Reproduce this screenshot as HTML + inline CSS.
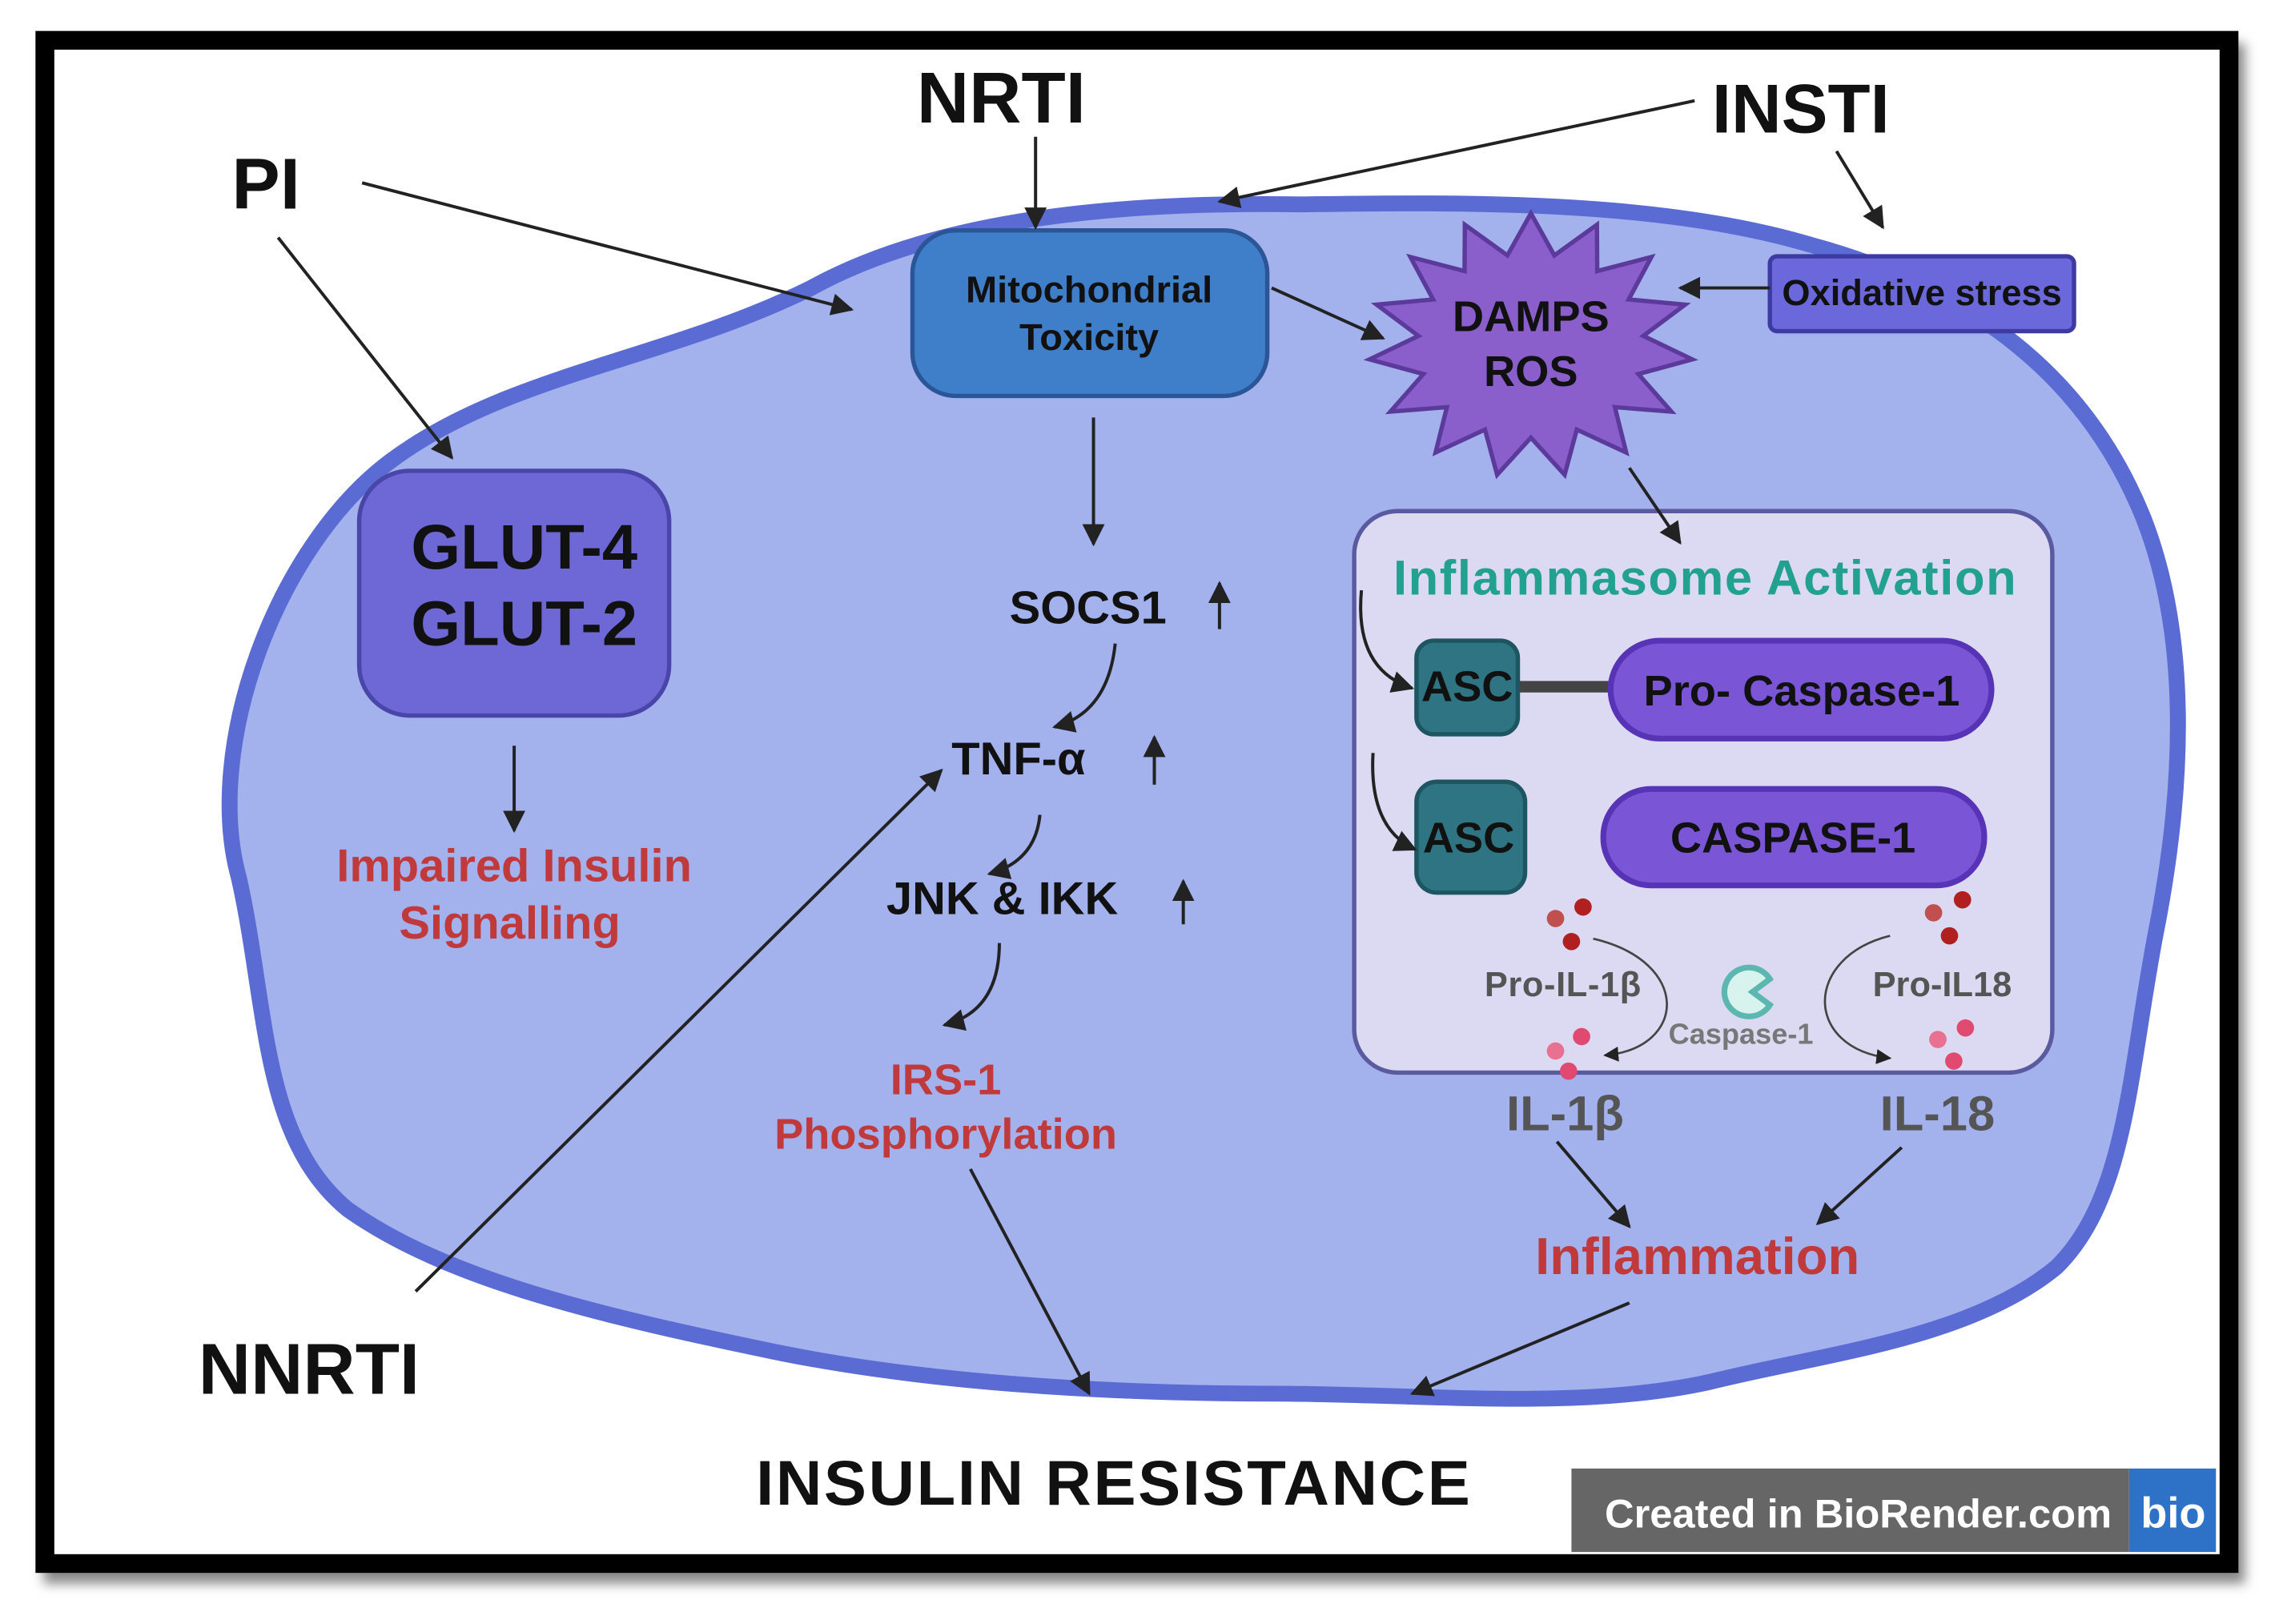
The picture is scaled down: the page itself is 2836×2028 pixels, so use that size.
<!DOCTYPE html>
<html><head><meta charset="utf-8"><style>
html,body{margin:0;padding:0;background:#fff;}
svg{display:block;}
text{font-family:"Liberation Sans Narrow","Liberation Sans",sans-serif;font-weight:bold;}
</style></head><body>
<svg width="2836" height="2028" viewBox="0 0 1568 1128" preserveAspectRatio="none" xmlns="http://www.w3.org/2000/svg">
<defs>
<marker id="a" viewBox="0 0 10 10" refX="9" refY="5" markerWidth="7" markerHeight="7" orient="auto-start-reverse"><path d="M0,0 L10,5 L0,10 z" fill="#222"/></marker>
<filter id="sh" x="-5%" y="-5%" width="110%" height="110%"><feGaussianBlur stdDeviation="4"/></filter>
</defs>
<rect x="0" y="0" width="1568" height="1128" fill="#fff"/>
<rect x="30" y="30" width="1520" height="1070" fill="#888" filter="url(#sh)"/>
<rect x="31" y="28" width="1508" height="1058" fill="#fff" stroke="#000" stroke-width="13"/>
<path d="M165,610 C140,520 190,380 270,320 C350,260 460,250 560,200 C650,150 780,140 900,142 C1020,140 1150,140 1250,170 C1360,200 1440,260 1480,360 C1515,450 1505,560 1490,640 C1470,740 1470,830 1420,880 C1360,930 1260,940 1180,960 C1090,980 980,968 880,968 C760,968 640,960 540,940 C420,915 310,890 240,840 C180,790 185,700 165,610 Z" fill="#a3b1ec" stroke="#5a6bd4" stroke-width="11"/>
<text x="160" y="145" font-size="50" fill="#111">PI</text>
<text x="633" y="85" font-size="50" fill="#111">NRTI</text>
<text x="1182" y="92" font-size="48" fill="#111">INSTI</text>
<text x="137" y="968" font-size="50" fill="#111">NNRTI</text>
<text x="522" y="1045" font-size="44" fill="#111" textLength="493">INSULIN RESISTANCE</text>
<rect x="630" y="160" width="245" height="115" rx="30" fill="#3f7fca" stroke="#2a5596" stroke-width="3"/>
<text x="752" y="210" font-size="26" text-anchor="middle" fill="#111">Mitochondrial</text>
<text x="752" y="243" font-size="26" text-anchor="middle" fill="#111">Toxicity</text>
<polygon id="star" fill="#8a5ecb" stroke="#5b3a9c" stroke-width="3" points=""/>
<rect x="1222" y="178" width="210" height="52" rx="5" fill="#6a68da" stroke="#3d3ba2" stroke-width="3"/>
<text x="1327" y="212" font-size="25" text-anchor="middle" fill="#111">Oxidative stress</text>
<rect x="248" y="327" width="214" height="170" rx="35" fill="#6d68d6" stroke="#4a45a8" stroke-width="3"/>
<text x="362" y="395" font-size="44" text-anchor="middle" fill="#111">GLUT-4</text>
<text x="362" y="448" font-size="44" text-anchor="middle" fill="#111">GLUT-2</text>
<text x="355" y="612" font-size="32" text-anchor="middle" fill="#c0393b">Impaired Insulin</text>
<text x="352" y="652" font-size="32" text-anchor="middle" fill="#c0393b">Signalling</text>
<text x="697" y="433" font-size="32" fill="#111">SOCS1</text>
<text x="657" y="538" font-size="32" fill="#111">TNF-α</text>
<text x="612" y="635" font-size="32" fill="#111">JNK &amp; IKK</text>
<text x="653" y="760" font-size="30" text-anchor="middle" fill="#c0393b">IRS-1</text>
<text x="653" y="798" font-size="30" text-anchor="middle" fill="#c0393b">Phosphorylation</text>
<rect x="935" y="355" width="482" height="390" rx="30" fill="#dcdaf2" stroke="#5a5aa0" stroke-width="3"/>
<text x="962" y="413" font-size="34" fill="#22a090" textLength="430">Inflammasome Activation</text>
<line x1="1048" y1="477" x2="1115" y2="477" stroke="#444" stroke-width="8"/>
<rect x="978" y="445" width="70" height="65" rx="12" fill="#2f7482" stroke="#1d5560" stroke-width="3"/>
<text x="1013" y="487" font-size="30" text-anchor="middle" fill="#111">ASC</text>
<rect x="978" y="543" width="75" height="77" rx="14" fill="#2f7482" stroke="#1d5560" stroke-width="3"/>
<text x="1014" y="592" font-size="30" text-anchor="middle" fill="#111">ASC</text>
<rect x="1112" y="445" width="263" height="68" rx="34" fill="#7a55d6" stroke="#5733b6" stroke-width="4"/>
<text x="1244" y="490" font-size="30" text-anchor="middle" fill="#111">Pro- Caspase-1</text>
<rect x="1107" y="548" width="263" height="67" rx="33" fill="#7a55d6" stroke="#5733b6" stroke-width="4"/>
<text x="1238" y="592" font-size="30" text-anchor="middle" fill="#111">CASPASE-1</text>
<text x="1025" y="692" font-size="24" fill="#555" textLength="108">Pro-IL-1β</text>
<text x="1293" y="692" font-size="24" fill="#555">Pro-IL18</text>
<text x="1152" y="725" font-size="20" fill="#777" font-weight="normal">Caspase-1</text>
<path d="M1222,680 A17,17 0 1 0 1222,698 L1210,689 Z" fill="#d8f2ee" stroke="#5ab8b0" stroke-width="4"/>
<path d="M1100,652 C1168,668 1165,728 1108,733" fill="none" stroke="#444" stroke-width="1.5" marker-end="url(#a)"/>
<path d="M1305,650 C1245,665 1245,728 1305,735" fill="none" stroke="#444" stroke-width="1.5" marker-end="url(#a)"/>
<g fill="#b02020"><circle cx="1093" cy="630" r="6"/><circle cx="1074" cy="638" r="6" fill="#c05050"/><circle cx="1085" cy="654" r="6"/><circle cx="1355" cy="625" r="6"/><circle cx="1335" cy="634" r="6" fill="#c05050"/><circle cx="1346" cy="650" r="6"/></g>
<g fill="#e04a70"><circle cx="1092" cy="720" r="6"/><circle cx="1074" cy="730" r="6" fill="#e87090"/><circle cx="1083" cy="744" r="6"/><circle cx="1357" cy="714" r="6"/><circle cx="1338" cy="722" r="6" fill="#e87090"/><circle cx="1349" cy="737" r="6"/></g>
<text x="1040" y="785" font-size="34" fill="#555">IL-1β</text>
<text x="1298" y="785" font-size="34" fill="#555">IL-18</text>
<text x="1060" y="885" font-size="36" fill="#c0393b">Inflammation</text>
<rect x="1085" y="1020" width="385" height="58" fill="#666"/>
<rect x="1470" y="1020" width="60" height="58" fill="#2e72c8"/>
<text x="1108" y="1061" font-size="28" fill="#fff" font-weight="normal">Created in <tspan font-weight="bold">BioRender.com</tspan></text>
<text x="1478" y="1061" font-size="30" fill="#fff">bio</text>
<g stroke="#222" stroke-width="2.2" fill="none" marker-end="url(#a)">
<line x1="250" y1="127" x2="588" y2="215"/>
<line x1="192" y1="165" x2="312" y2="318"/>
<line x1="715" y1="95" x2="715" y2="158"/>
<line x1="1170" y1="70" x2="842" y2="140"/>
<line x1="1268" y1="105" x2="1300" y2="158"/>
<line x1="1222" y1="200" x2="1160" y2="200"/>
<line x1="878" y1="200" x2="955" y2="235"/>
<line x1="755" y1="290" x2="755" y2="378"/>
<line x1="1125" y1="325" x2="1160" y2="377"/>
<path d="M770,447 Q765,495 728,505"/>
<path d="M718,566 Q715,598 683,607"/>
<path d="M690,655 Q690,702 652,712"/>
<line x1="355" y1="518" x2="355" y2="577"/>
<line x1="287" y1="897" x2="650" y2="535"/>
<line x1="670" y1="812" x2="752" y2="968"/>
<line x1="1125" y1="905" x2="975" y2="968"/>
<line x1="1075" y1="793" x2="1125" y2="852"/>
<line x1="1313" y1="797" x2="1255" y2="850"/>
<line x1="842" y1="437" x2="842" y2="405"/>
<line x1="797" y1="545" x2="797" y2="512"/>
<line x1="817" y1="642" x2="817" y2="612"/>
<path d="M940,410 Q935,465 975,478"/>
<path d="M948,523 Q945,575 977,590"/>
</g>
<script>
var p=[],cx=1057,cy=240,n=15;
for(var i=0;i<2*n;i++){var r=i%2?78:112,t=Math.PI*i/n-Math.PI/2;p.push((cx+r*Math.cos(t)).toFixed(1)+","+(cy+r*Math.sin(t)*0.82).toFixed(1));}
document.getElementById("star").setAttribute("points",p.join(" "));
</script>
<text x="1057" y="230" font-size="30" text-anchor="middle" fill="#111">DAMPS</text>
<text x="1057" y="268" font-size="30" text-anchor="middle" fill="#111">ROS</text>
</svg>
</body></html>
